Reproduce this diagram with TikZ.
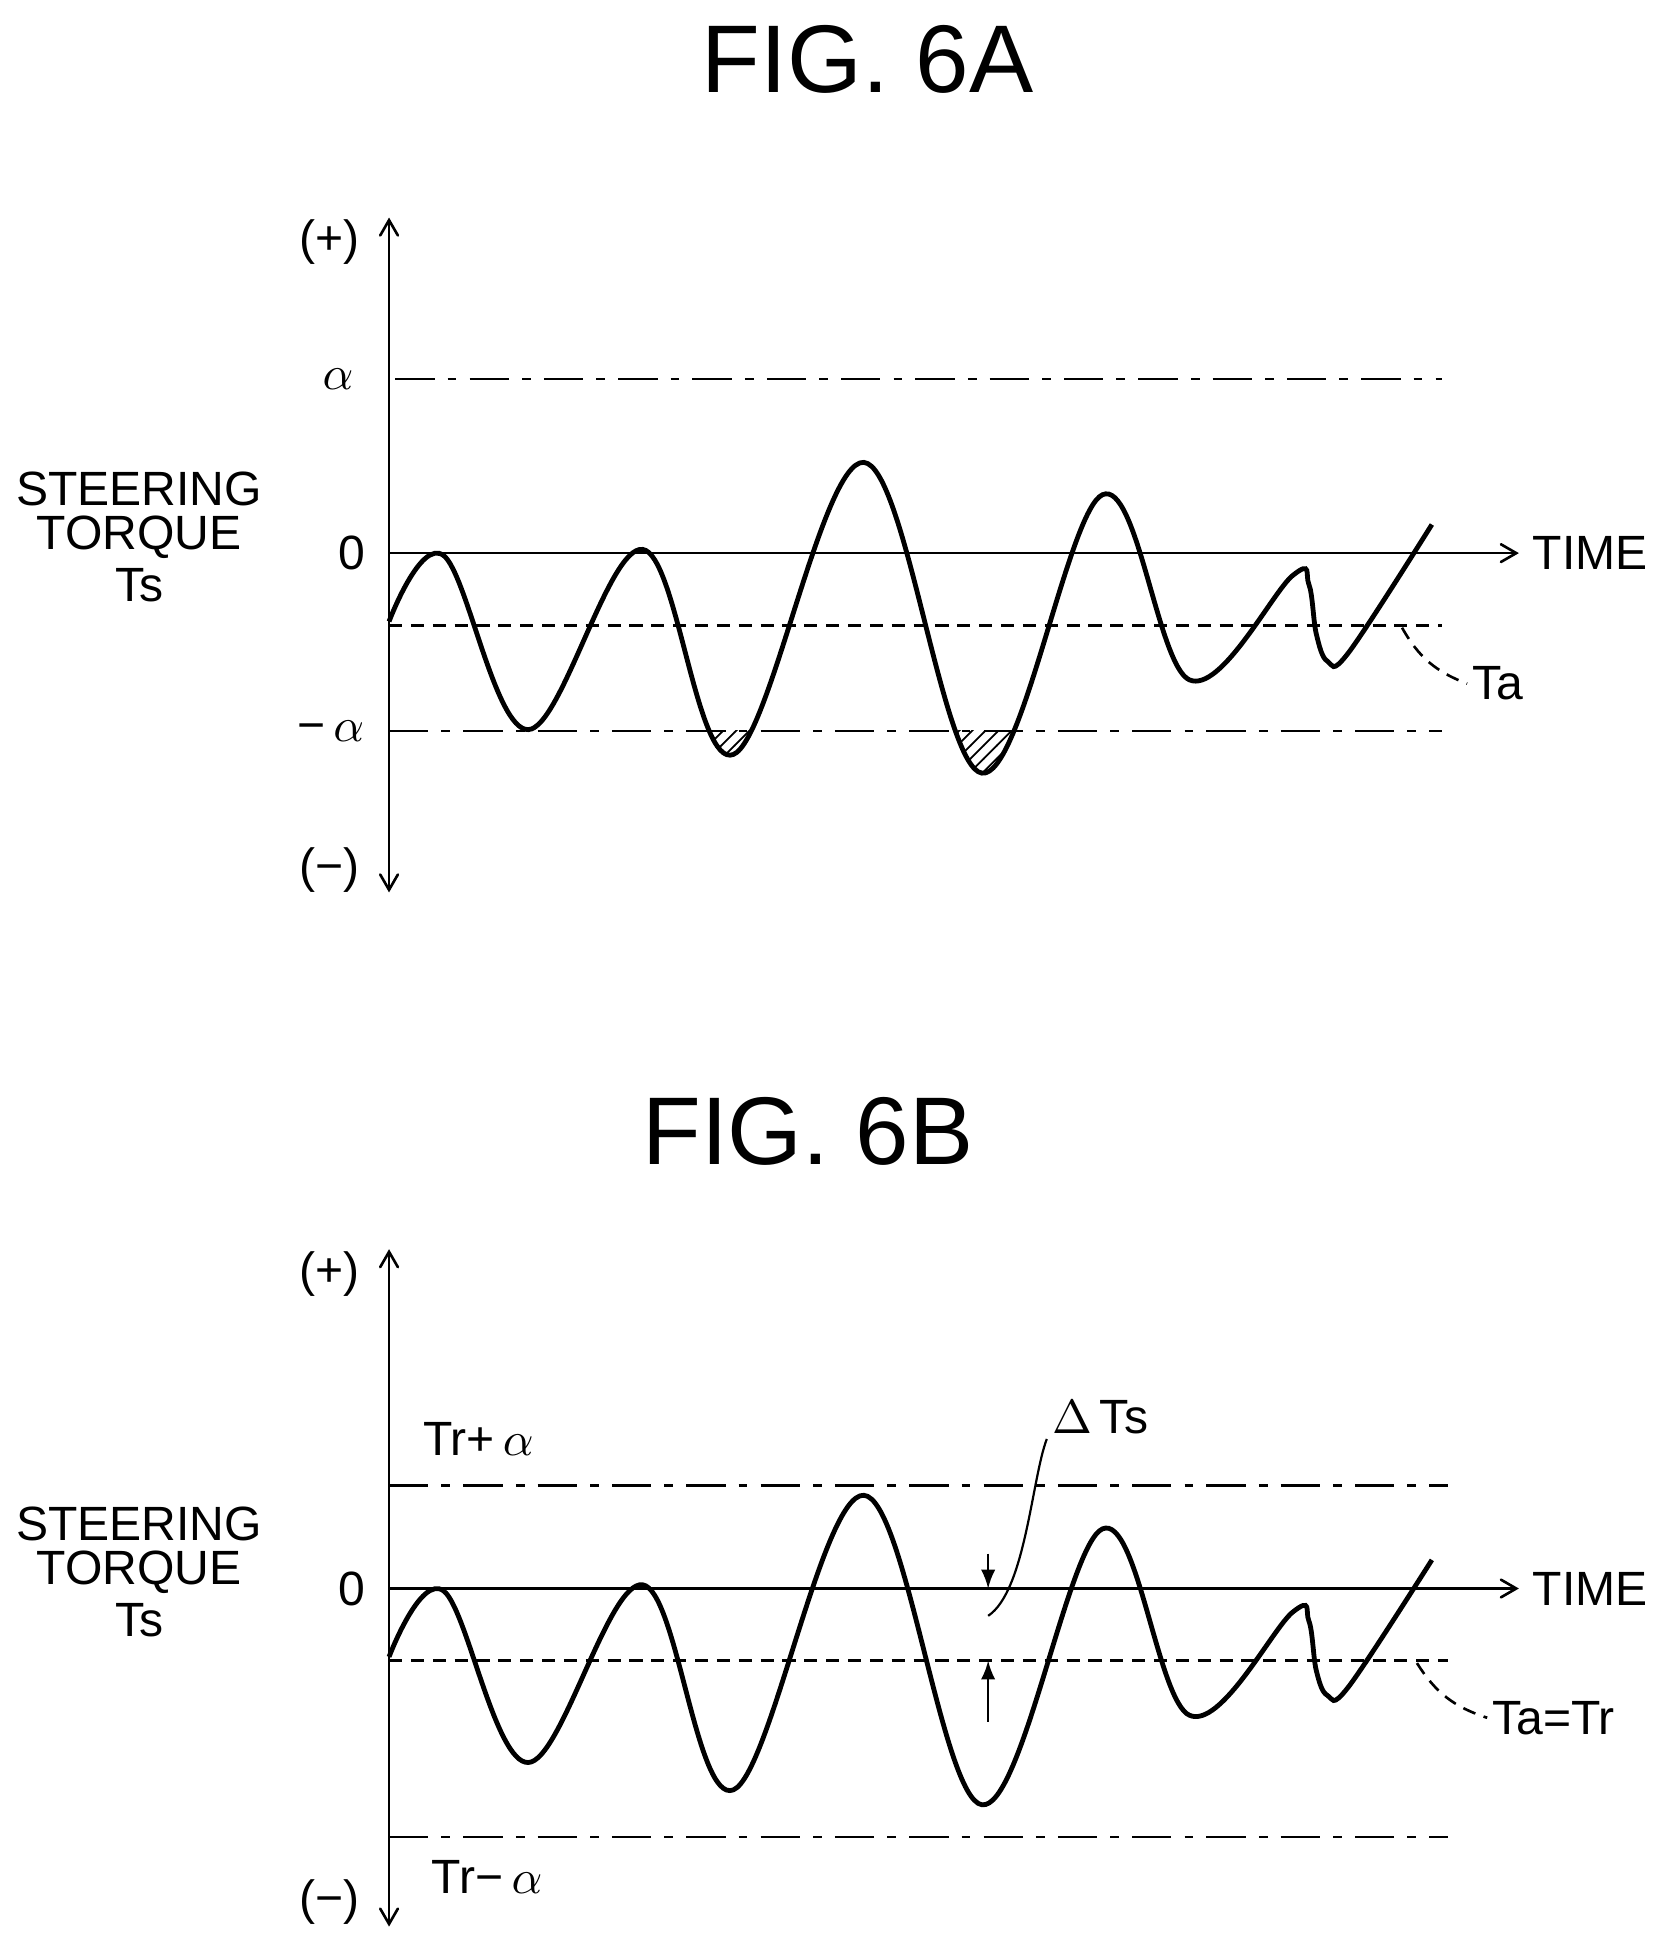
\documentclass[tikz,border=0pt]{standalone}
\usepackage{fontspec}
\setmainfont{Liberation Sans}
\usetikzlibrary{arrows,patterns,positioning}

\begin{document}
\begin{tikzpicture}
		[x=0.01cm,y=-0.01cm,
		lbl/.style={font=\fontsize{11}{13}\selectfont, inner sep=1pt},
		fig/.style={font=\fontsize{22}{24}\selectfont},
		wave/.style={line width=1.1pt},
		ax/.style={line width=0.6pt,-angle 60},
		dashdot/.style={line width=0.6pt,dash pattern=on 9pt off 3pt on 2pt off 3pt},
		dsh/.style={line width=0.6pt,dash pattern=on 3pt off 2pt},]
		\useasboundingbox (0,0) rectangle (1330,1560);
		
		% FIG. 6A
		\node[fig] (titleA) at (698,48) {FIG. 6A};
		\coordinate (yAtop) at (313,175);
		\coordinate (yAbot) at (313,718);
		\coordinate (zA) at (313,445);
		\coordinate (tA) at (1222,445);
		\draw[ax] (zA) -- (yAtop);
		\draw[ax] (zA) -- (yAbot);
		\draw[ax] (zA) -- (tA);
		\node[lbl,right=2pt of tA] (timeA) {TIME};
		\node[lbl] (plusA) at (265,195) {(+)};
		\node[lbl] (minusA) at (265,700) {(\textminus)};
		\node[lbl] (alA) at (272,305) {$\alpha$};
		\node[lbl] (zeroA) at (283,445) {0};
		\node[lbl] (malA) at (266,588) {\textminus\,$\alpha$};
		\node[lbl,align=center] (nameA) at (112,432) {STEERING\\[-3pt]TORQUE\\[-1pt]Ts};
		\draw[dashdot] (318,305) -- (1160,305);
		\draw[dsh] (313,503) -- (1160,503);
		\draw[dashdot] (313,588) -- (1160,588);
		\node[lbl] (Ta) at (1205,550) {Ta};
		\draw[dsh] (1128,505) to[bend right=20] (Ta.west);
		\begin{scope}
			\clip (0,588) rectangle (1330,700);
			\fill[pattern=north east lines] plot[smooth,tension=0.6] coordinates {(313,500) (357,447) (425,587) (517,442) (590,607) (695,372) (790,622) (887,398) (957,547) (1043,463)} -- (1043,300) -- (313,300) -- cycle;
		\end{scope}
		\draw[wave] plot[smooth,tension=0.6] coordinates {(313,500) (357,447) (425,587) (517,442) (590,607) (695,372) (790,622) (887,398) (957,547) (1040,463) (1053,470) (1059,510) (1068,532) (1085,525) (1152,422)};
		
		% FIG. 6B
		\node[fig] (titleB) at (650,910) {FIG. 6B};
		\coordinate (yBtop) at (313,1005);
		\coordinate (yBbot) at (313,1550);
		\coordinate (zB) at (313,1278);
		\coordinate (tB) at (1222,1278);
		\draw[ax] (zB) -- (yBtop);
		\draw[ax] (zB) -- (yBbot);
		\draw[ax] (zB) -- (tB);
		\node[lbl,right=2pt of tB] (timeB) {TIME};
		\node[lbl] (plusB) at (265,1025) {(+)};
		\node[lbl] (minusB) at (265,1530) {(\textminus)};
		\node[lbl] (zeroB) at (283,1278) {0};
		\node[lbl] (upB) at (385,1158) {Tr+\,$\alpha$};
		\node[lbl] (loB) at (392,1510) {Tr\textminus\,$\alpha$};
		\node[lbl,align=center] (nameB) at (112,1265) {STEERING\\[-3pt]TORQUE\\[-1pt]Ts};
		\draw[dashdot] (313,1195) -- (1165,1195);
		\draw[dsh] (313,1336) -- (1165,1336);
		\draw[dashdot] (313,1478) -- (1165,1478);
		\node[lbl] (TaTr) at (1250,1382) {Ta=Tr};
		\draw[dsh] (1140,1338) to[bend right=20] (TaTr.west);
		\draw[wave] plot[smooth,tension=0.6] coordinates {(313,1333) (357,1280) (425,1418) (517,1275) (590,1440) (695,1203) (790,1452) (887,1230) (957,1380) (1040,1297) (1053,1304) (1059,1344) (1068,1364) (1085,1357) (1152,1255)};
		\coordinate (dTop) at (795,1250);
		\coordinate (dBot) at (795,1385);
		\draw[line width=0.5pt,-latex] (dTop) -- (795,1278);
		\draw[line width=0.5pt,-latex] (dBot) -- (795,1336);
		\node[lbl] (dTs) at (885,1140) {$\Delta$\,Ts};
		\draw[line width=0.5pt] (795,1300) .. controls (825,1280) and (830,1190) .. (dTs.south west);
	\end{tikzpicture}
\end{document}
